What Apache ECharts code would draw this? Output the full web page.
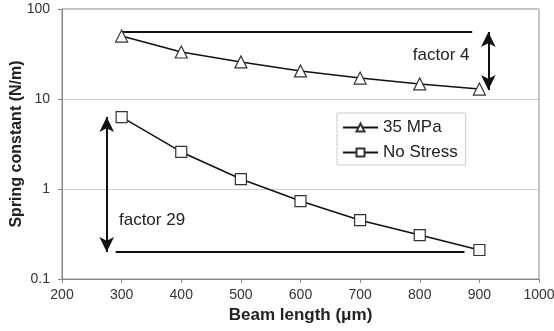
<!DOCTYPE html>
<html>
<head>
<meta charset="utf-8">
<script src="https://cdn.jsdelivr.net/npm/echarts@6/dist/echarts.min.js"></script>
<style>
    html, body { margin: 0; padding: 0; background: #fff; }
    #chart { width: 554px; height: 331px; }
</style>
</head>
<body>
<div id="chart"></div>
<script>
// beam lengths (um)
const beamLength = [300, 400, 500, 600, 700, 800, 900];
// spring constant (N/m)
const stress35 = [50, 33.3, 25.8, 20.5, 17.1, 14.7, 12.9];
const noStress = [6.3, 2.58, 1.29, 0.735, 0.45, 0.308, 0.21];

// reference lines and arrows for the "factor" notes
const topLineX = [300, 888];
const topLineY = 55.5;
const bottomLineX = [290, 875];
const bottomLineY = 0.2;
const factor4X = 915;
const factor4Y = [55.5, 12.6];
const factor29X = 275;
const factor29Y = [6.3, 0.2];
const factor4Label = [836, 30.8];
const factor29Label = [351, 0.45];

const font = 'Liberation Sans, Arial, sans-serif';
const chart = echarts.init(document.getElementById('chart'), null, { renderer: 'canvas' });

function pairs(xs, ys) {
    return xs.map((x, i) => [x, ys[i]]);
}

chart.setOption({
    animation: false,
    grid: {
        left: 62,
        right: 15,
        top: 9,
        bottom: 52,
        outerBoundsMode: 'none',
        containLabel: false,
        show: true,
        borderColor: '#888',
        borderWidth: 1
    },
    legend: {
        orient: 'vertical',
        left: 337,
        top: 113,
        width: 127,
        padding: [6, 8, 4, 5],
        itemGap: 8,
        itemWidth: 35,
        itemHeight: 10,
        borderColor: '#ccc',
        borderWidth: 1,
        backgroundColor: '#fff',
        textStyle: { fontFamily: font, fontSize: 17, color: '#222' },
        data: ['35 MPa', 'No Stress']
    },
    xAxis: {
        type: 'value',
        min: 200,
        max: 1000,
        interval: 100,
        name: 'Beam length (\u03bcm)',
        nameLocation: 'middle',
        nameGap: 28,
        nameMoveOverlap: false,
        nameTextStyle: { fontFamily: font, fontSize: 17, fontWeight: 'bold', color: '#222' },
        axisLine: { lineStyle: { color: '#888' } },
        axisTick: { show: true, length: 4, lineStyle: { color: '#888' } },
        axisLabel: { fontFamily: font, fontSize: 14, color: '#333', margin: 9, formatter: (v) => String(v) },
        splitLine: { show: false }
    },
    yAxis: {
        type: 'log',
        logBase: 10,
        min: 0.1,
        max: 100,
        name: 'Spring constant (N/m)',
        nameLocation: 'middle',
        nameGap: 37,
        nameMoveOverlap: false,
        nameTextStyle: { fontFamily: font, fontSize: 16, fontWeight: 'bold', color: '#222' },
        axisLine: { show: true, lineStyle: { color: '#888' } },
        axisTick: { show: true, length: 4, lineStyle: { color: '#888' } },
        axisLabel: { fontFamily: font, fontSize: 14, color: '#333', margin: 12 },
        splitLine: { show: true, lineStyle: { color: '#ccc', width: 1 } }
    },
    series: [
        {
            name: '35 MPa',
            type: 'line',
            data: pairs(beamLength, stress35),
            symbol: 'triangle',
            symbolSize: 12,
            lineStyle: { color: '#111', width: 1.5 },
            itemStyle: { color: '#fff', borderColor: '#333', borderWidth: 1.2 },
            z: 5
        },
        {
            name: 'No Stress',
            type: 'line',
            data: pairs(beamLength, noStress),
            symbol: 'rect',
            symbolSize: 11,
            lineStyle: { color: '#111', width: 1.5 },
            itemStyle: { color: '#fff', borderColor: '#333', borderWidth: 1.2 },
            z: 5
        },
        {
            name: 'notes',
            type: 'line',
            data: [],
            silent: true,
            markLine: {
                silent: true,
                animation: false,
                label: { show: false },
                lineStyle: { color: '#111', width: 2, type: 'solid' },
                symbol: ['none', 'none'],
                data: [
                    [{ coord: [topLineX[0], topLineY] }, { coord: [topLineX[1], topLineY] }],
                    [{ coord: [bottomLineX[0], bottomLineY] }, { coord: [bottomLineX[1], bottomLineY] }],
                    [
                        { coord: [factor4X, factor4Y[0]], symbol: 'arrow', symbolSize: [11, 15] },
                        { coord: [factor4X, factor4Y[1]], symbol: 'arrow', symbolSize: [11, 15] }
                    ],
                    [
                        { coord: [factor29X, factor29Y[0]], symbol: 'arrow', symbolSize: [11, 15] },
                        { coord: [factor29X, factor29Y[1]], symbol: 'arrow', symbolSize: [11, 15] }
                    ]
                ]
            },
            markPoint: {
                silent: true,
                symbol: 'circle',
                symbolSize: 0,
                label: {
                    show: true,
                    position: 'inside',
                    fontFamily: font,
                    fontSize: 17,
                    color: '#222'
                },
                data: [
                    { coord: factor4Label, value: 'factor 4', label: { formatter: 'factor 4' } },
                    { coord: factor29Label, value: 'factor 29', label: { formatter: 'factor 29' } }
                ]
            }
        }
    ]
});
</script>
</body>
</html>
